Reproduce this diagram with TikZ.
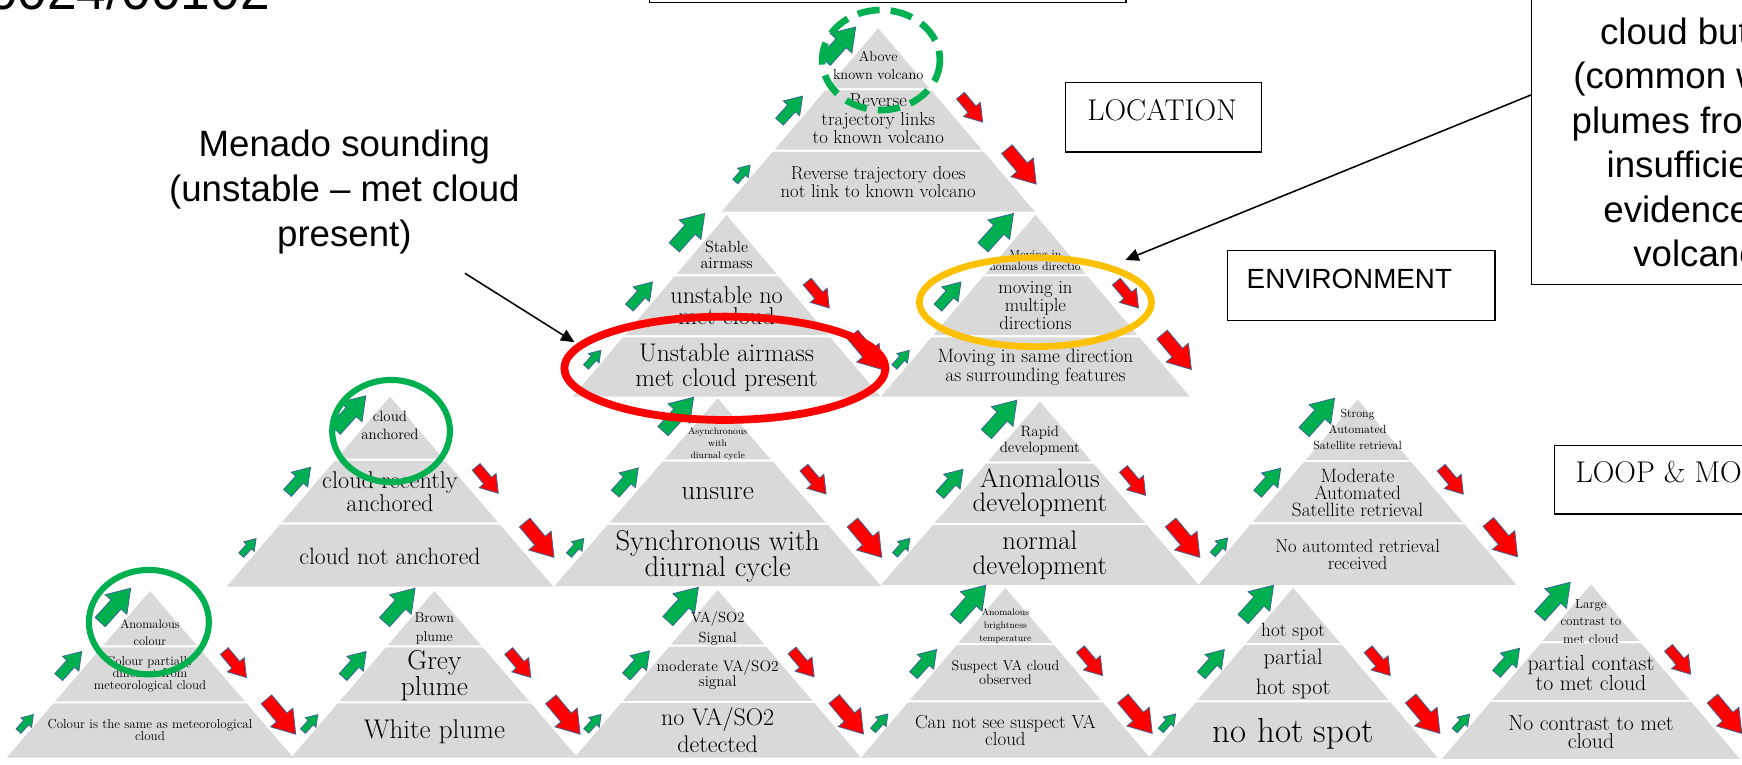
\documentclass[tikz,border=0pt]{standalone}
\usepackage{fontspec}
\newfontfamily\arial{Liberation Sans}
\usetikzlibrary{arrows.meta}
\definecolor{bandc}{HTML}{D9D9D9}
\definecolor{agreen}{HTML}{00B050}
\definecolor{ared}{HTML}{FF0000}
\definecolor{aedge}{HTML}{3A6496}
\definecolor{orng}{HTML}{FFC000}
\definecolor{cgreen}{HTML}{00B050}
\definecolor{cred}{HTML}{FF0000}
\tikzset{
  tx/.style 2 args={align=center, inner sep=0pt, text=black,
    font={\pgfmathsetmacro\fsz{#1*1.12}\fontsize{\fsz}{#2}\selectfont}},
  garr/.style={fill=agreen, draw=aedge, line width=0.7pt, line join=miter},
  rarr/.style={fill=ared, draw=aedge, line width=0.7pt, line join=miter},
  band/.style={fill=bandc},
  lbox/.style={draw=black, line width=1.3pt, inner sep=0pt},
  callarrow/.style={draw=black, line width=1.4pt, -{Triangle[length=12pt,width=11pt]}},
  serlabel/.style={inner sep=0pt, font=\fontsize{27}{27}\selectfont},
  arlabel/.style={inner sep=0pt, font=\arial\fontsize{25}{25}\selectfont},
  callt/.style={inner sep=0pt, align=center, font=\arial\fontsize{33}{40.5}\selectfont},
  callline/.style={inner sep=0pt, anchor=base west, font=\arial\fontsize{33}{40}\selectfont},
}
\newcommand\blockarrow[5]{%
  \begin{scope}[shift={(#2,#3)}, rotate=#4, scale=#5]
  \filldraw[#1] (-0.5,-0.15) -- (0.02,-0.15) -- (0.02,-0.32) -- (0.5,0) -- (0.02,0.32) -- (0.02,0.15) -- (-0.5,0.15) -- cycle;
  \end{scope}}
\newcommand\pyr[2]{%
  \pgfmathsetmacro\pyrh{#1}\pgfmathsetmacro\pyrw{#2}%
  \fill[band] (0,0) -- ({0.326*\pyrw},{0.326*\pyrh}) -- ({-0.326*\pyrw},{0.326*\pyrh}) -- cycle;
  \fill[band] ({-0.338*\pyrw},{0.338*\pyrh}) -- ({0.338*\pyrw},{0.338*\pyrh}) -- ({0.662*\pyrw},{0.662*\pyrh}) -- ({-0.662*\pyrw},{0.662*\pyrh}) -- cycle;
  \fill[band] ({-0.674*\pyrw},{0.674*\pyrh}) -- ({0.674*\pyrw},{0.674*\pyrh}) -- (\pyrw,\pyrh) -- (-\pyrw,\pyrh) -- cycle;
}
\newcommand\pyrarrows[2]{%
  \pgfmathsetmacro\sx{#2/141}\pgfmathsetmacro\sy{#1/165}%
  \blockarrow{garr}{-34*\sx}{14*\sy}{48}{41}
  \blockarrow{garr}{-78.5*\sx}{72.5*\sy}{48}{31}
  \blockarrow{garr}{-122*\sx}{130.5*\sy}{48}{20}
  \blockarrow{rarr}{84*\sx}{72.5*\sy}{-50}{31}
  \blockarrow{rarr}{129*\sx}{124.5*\sy}{-50}{41}
}
\begin{document}
\begin{tikzpicture}[x=1pt,y=-1pt]
\useasboundingbox (0,0) rectangle (1568,688);
\clip (0,0) rectangle (1568,688);
\fill[white] (0,0) rectangle (1568,688);

% apex coordinates
\coordinate (pA) at (790.5,25.5);
\coordinate (pB) at (654,193.5);
\coordinate (pC) at (932,193.5);
\coordinate (pD) at (351,357);
\coordinate (pE) at (646,358.5);
\coordinate (pF) at (936,361.5);
\coordinate (pG) at (1222,359.5);
\coordinate (pH) at (135,532);
\coordinate (pI) at (391,532);
\coordinate (pJ) at (646,531);
\coordinate (pK) at (905,529);
\coordinate (pL) at (1164,529);
\coordinate (pM) at (1432,526);

% ---------- pyramids: bands and texts ----------
\begin{scope}[shift={(pA)}]
\pyr{165}{141}
\node[tx={11.5}{16.5}] (A1) at (0,33.5) {Above\\known volcano};
\node[tx={15}{16.5}] (A2) at (0,81.5) {Reverse\\trajectory links\\to known volcano};
\node[tx={15}{16}] (A3) at (0,138.5) {Reverse trajectory does\\not link to known volcano};
\end{scope}

\begin{scope}[shift={(pB)}]
\pyr{163.5}{138.5}
\node[tx={13}{15}] (B1) at (0,36) {Stable\\airmass};
\begin{scope}
\clip ({-0.338*138.5},{0.338*163.5}) -- ({0.338*138.5},{0.338*163.5}) -- ({0.662*138.5},{0.662*163.5}) -- ({-0.662*138.5},{0.662*163.5}) -- cycle;
\node[tx={19.5}{19}] (B2) at (0,82) {unstable no\\met cloud};
\end{scope}
\node[tx={20.5}{22.5}] (B3) at (0,137) {Unstable airmass\\met cloud present};
\end{scope}

\begin{scope}[shift={(pC)}]
\pyr{163.5}{139}
\begin{scope}
\clip (0,0) -- ({0.326*139},{0.326*163.5}) -- ({-0.326*139},{0.326*163.5}) -- cycle;
\node[tx={9.5}{10.5}] (C1) at (0,41) {Moving in\\anomalous direction};
\end{scope}
\node[tx={15}{16.5}] (C2) at (0,81.6) {moving in\\multiple\\directions};
\node[tx={15.5}{16.5}] (C3) at (0,137) {Moving in same direction\\as surrounding features};
\end{scope}

\begin{scope}[shift={(pD)}]
\pyr{171}{147}
\node[tx={12}{16.5}] (D1) at (0,26) {cloud\\anchored};
\node[tx={19.5}{21}] (D2) at (0,85.5) {cloud recently\\anchored};
\node[tx={19}{19}] (D3) at (0,144) {cloud not anchored};
\end{scope}

\begin{scope}[shift={(pE)}]
\pyr{169}{147}
\node[tx={7.6}{10.7}] (E1) at (0,41) {Asynchronous\\with\\diurnal cycle};
\node[tx={22}{22}] (E2) at (0,86) {unsure};
\node[tx={23}{23.5}] (E3) at (0,142) {Synchronous with\\diurnal cycle};
\end{scope}

\begin{scope}[shift={(pF)}]
\pyr{165}{143}
\node[tx={12}{14}] (F1) at (0,35) {Rapid\\development};
\node[tx={21.5}{21.5}] (F2) at (0,82) {Anomalous\\development};
\node[tx={21.5}{23}] (F3) at (0,138.5) {normal\\development};
\end{scope}

\begin{scope}[shift={(pG)}]
\pyr{167}{143}
\node[tx={9.5}{14.5}] (G1) at (0,27) {Strong\\Automated\\Satellite retrieval};
\node[tx={15.5}{15.5}] (G2) at (0,84) {Moderate\\Automated\\Satellite retrieval};
\node[tx={15}{15.5}] (G3) at (0,139.5) {No automted retrieval\\received};
\end{scope}

\begin{scope}[shift={(pH)}]
\pyr{150}{129}
\node[tx={10}{15}] (H1) at (0,37.5) {Anomalous\\colour};
\node[tx={10.3}{10.8}] (H2) at (0,75.3) {Colour partially\\different from\\meteorological cloud};
\node[tx={10.5}{10.5}] (H3) at (0,125) {Colour is the same as meteorological\\cloud};
\end{scope}

\begin{scope}[shift={(pI)}]
\pyr{150}{129}
\node[tx={11.4}{17}] (I1) at (0,33.5) {Brown\\plume};
\node[tx={22}{22}] (I2) at (0,76) {Grey\\plume};
\node[tx={21.7}{22}] (I3) at (0,126.5) {White plume};
\end{scope}

\begin{scope}[shift={(pJ)}]
\pyr{151}{129}
\node[tx={11.8}{18}] (J1) at (0,35) {VA/SO2\\Signal};
\node[tx={12.3}{12}] (J2) at (0,76.5) {moderate VA/SO2\\signal};
\node[tx={19.3}{24}] (J3) at (0,126) {no VA/SO2\\detected};
\end{scope}

\begin{scope}[shift={(pK)}]
\pyr{153}{130}
\node[tx={7.6}{11.7}] (K1) at (0,34.8) {Anomalous\\brightness\\temperature};
\node[tx={11.4}{12}] (K2) at (0,76.4) {Suspect VA cloud\\observed};
\node[tx={15.2}{16}] (K3) at (0,128.5) {Can not see suspect VA\\cloud};
\end{scope}

\begin{scope}[shift={(pL)}]
\pyr{153}{130}
\node[tx={15.4}{15.4}] (L1) at (0,40) {hot spot};
\node[tx={18}{27.4}] (L2) at (0,77.7) {partial\\hot spot};
\node[tx={28}{28}] (L3) at (0,131.6) {no hot spot};
\end{scope}

\begin{scope}[shift={(pM)}]
\pyr{157}{134}
\node[tx={10.5}{15.7}] (M1) at (0,33.2) {Large\\contrast to\\met cloud};
\node[tx={17.5}{17.4}] (M2) at (0,79.7) {partial contast\\to met cloud};
\node[tx={17.4}{17}] (M3) at (0,133) {No contrast to met\\cloud};
\end{scope}

% ---------- block arrows ----------
\begin{scope}[shift={(pA)}]\pyrarrows{165}{141}\end{scope}
\begin{scope}[shift={(pB)}]\pyrarrows{163.5}{138.5}\end{scope}
\begin{scope}[shift={(pC)}]\pyrarrows{163.5}{139}\end{scope}
\begin{scope}[shift={(pD)}]\pyrarrows{171}{147}\end{scope}
\begin{scope}[shift={(pE)}]\pyrarrows{169}{147}\end{scope}
\begin{scope}[shift={(pF)}]\pyrarrows{165}{143}\end{scope}
\begin{scope}[shift={(pG)}]\pyrarrows{167}{143}\end{scope}
\begin{scope}[shift={(pH)}]\pyrarrows{150}{129}\end{scope}
\begin{scope}[shift={(pI)}]\pyrarrows{150}{129}\end{scope}
\begin{scope}[shift={(pJ)}]\pyrarrows{151}{129}\end{scope}
\begin{scope}[shift={(pK)}]\pyrarrows{153}{130}\end{scope}
\begin{scope}[shift={(pL)}]\pyrarrows{153}{130}\end{scope}
\begin{scope}[shift={(pM)}]\pyrarrows{157}{134}\end{scope}

% ---------- highlight ellipses ----------
\draw[cgreen, line width=6pt, dash pattern=on 20pt off 10pt] (793,54) ellipse [x radius=53, y radius=45];
\draw[cred, line width=7pt] (652.5,331.5) ellipse [x radius=144.5, y radius=46.5];
\draw[orng, line width=6pt] (932,272) ellipse [x radius=104.5, y radius=40];
\draw[cgreen, line width=5.5pt] (352,388) ellipse [x radius=53, y radius=46];
\draw[cgreen, line width=5.5pt] (134,560) ellipse [x radius=54, y radius=47];

% ---------- boxes ----------
\node[lbox, minimum width=429, minimum height=40, anchor=south west] (topbox) at (584,3) {};
\node[lbox, minimum width=176.5, minimum height=62.5, anchor=north west] (locbox) at (958.5,73.5) {};
\node[serlabel, anchor=base] (loctext) at (1046,108.5) {LOCATION};
\node[lbox, minimum width=241, minimum height=63, anchor=north west] (envbox) at (1104,225) {};
\node[arlabel, anchor=base west] (envtext) at (1122,259.5) {ENVIRONMENT};
\node[lbox, minimum width=220, minimum height=61.5, anchor=north west] (loopbox) at (1398.6,400.5) {};
\node[serlabel, anchor=base west] (looptext) at (1418,434) {LOOP \& MONITORING};

% ---------- callouts ----------
\node[font=\arial\fontsize{48}{50}\selectfont, inner sep=0pt, anchor=base east] (ref) at (243,8.4) {0024/00102};
\node[callt] (menado) at (310,172.5) {Menado sounding\\(unstable – met cloud\\present)};
\coordinate (menS) at (418.5,246);
\coordinate (menE) at (517,308);
\draw[callarrow] (menS) -- (menE);

\node[lbox, minimum width=300, minimum height=320, anchor=south west] (cbox) at (1378,256.5) {};
\node[callline] (cl1) at (1440,40) {cloud but};
\node[callline] (cl2) at (1416,80) {(common with};
\node[callline] (cl3) at (1414.5,120) {plumes from};
\node[callline] (cl4) at (1446,160) {insufficient};
\node[callline] (cl5) at (1443,200) {evidence of};
\node[callline] (cl6) at (1470,240) {volcano};
\coordinate (cS) at (1378,85.5);
\coordinate (cE) at (1013,234);
\draw[callarrow] (cS) -- (cE);
\end{tikzpicture}
\end{document}
